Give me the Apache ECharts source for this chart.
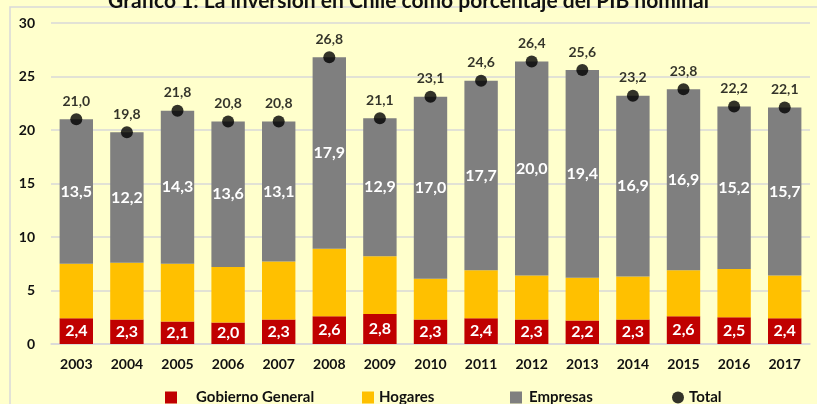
<!DOCTYPE html>
<html>
<head>
<meta charset="utf-8">
<script src="https://cdn.jsdelivr.net/npm/echarts@6/dist/echarts.min.js"></script>
<style>
  html, body { margin: 0; padding: 0; background: #FFFFCC; }
  #chart { width: 817px; height: 404px; }
</style>
</head>
<body>
<div id="chart"></div>
<script>
// datos (% del PIB)
var years = ['2003', '2004', '2005', '2006', '2007', '2008', '2009', '2010', '2011', '2012', '2013', '2014', '2015', '2016', '2017'];
var gobierno = [2.4, 2.3, 2.1, 2.0, 2.3, 2.6, 2.8, 2.3, 2.4, 2.3, 2.2, 2.3, 2.6, 2.5, 2.4];
var hogares = [5.1, 5.3, 5.4, 5.2, 5.4, 6.3, 5.4, 3.8, 4.5, 4.1, 4.0, 4.0, 4.3, 4.5, 4.0];
var empresas = [13.5, 12.2, 14.3, 13.6, 13.1, 17.9, 12.9, 17.0, 17.7, 20.0, 19.4, 16.9, 16.9, 15.2, 15.7];
var total = [21.0, 19.8, 21.8, 20.8, 20.8, 26.8, 21.1, 23.1, 24.6, 26.4, 25.6, 23.2, 23.8, 22.2, 22.1];
var yTicks = [0, 5, 10, 15, 20, 25, 30];

var font = 'Lato';

function fmt(p) {
  return p.value.toFixed(1).replace('.', ',');
}

function legendAt(name, left, icon, gap) {
  return {
    data: [{ name: name, icon: icon }],
    left: left,
    top: 385,
    itemWidth: 12,
    itemHeight: 12,
    selectedMode: false,
    textStyle: {
      fontFamily: font, fontWeight: 'bold', fontSize: 15, color: '#111',
      padding: [0, 0, 0, gap]
    }
  };
}

var chart = echarts.init(document.getElementById('chart'));

chart.setOption({
  backgroundColor: '#FFFFCC',
  animation: false,
  title: {
    text: 'Gráfico 1: La inversión en Chile como porcentaje del PIB nominal',
    left: 'center',
    top: -14,
    textStyle: { fontFamily: font, fontWeight: 'bold', fontSize: 21, color: '#111' }
  },
  graphic: [{
    type: 'rect',
    shape: { x: 10, y: 7, width: 820, height: 420 },
    style: { fill: 'none', stroke: '#D9D9D9', lineWidth: 1.5 },
    z: -1
  }],
  legend: [
    legendAt('Gobierno General', 160, 'rect', 14),
    legendAt('Hogares', 357, 'rect', 0),
    legendAt('Empresas', 505, 'rect', 2),
    legendAt('Total', 667, 'circle', 0)
  ],
  grid: { left: 51, right: 7, top: 23, bottom: 60 },
  xAxis: {
    type: 'category',
    data: years,
    axisTick: { show: false },
    axisLine: { lineStyle: { color: '#D9D9D9', width: 1.5 } },
    axisLabel: { fontFamily: font, fontWeight: 'bold', fontSize: 14, color: '#111', margin: 13 }
  },
  yAxis: {
    type: 'value',
    min: yTicks[0],
    max: yTicks[yTicks.length - 1],
    interval: 5,
    axisLine: { show: false },
    axisTick: { show: false },
    splitLine: { lineStyle: { color: '#D9D9D9', width: 1.5 } },
    axisLabel: { fontFamily: font, fontWeight: 'bold', fontSize: 14, color: '#111', margin: 16 }
  },
  series: [
    {
      name: 'Gobierno General',
      type: 'bar',
      stack: 'inv',
      barWidth: '66%',
      data: gobierno,
      itemStyle: { color: '#C00000' },
      label: {
        show: true, position: 'inside', formatter: fmt,
        fontFamily: font, fontWeight: 'bold', fontSize: 16, color: '#fff'
      }
    },
    {
      name: 'Hogares',
      type: 'bar',
      stack: 'inv',
      data: hogares,
      itemStyle: { color: '#FFC000' }
    },
    {
      name: 'Empresas',
      type: 'bar',
      stack: 'inv',
      data: empresas,
      itemStyle: { color: '#7F7F7F' },
      label: {
        show: true, position: 'inside', formatter: fmt,
        fontFamily: font, fontWeight: 'bold', fontSize: 16, color: '#fff'
      }
    },
    {
      name: 'Total',
      type: 'scatter',
      data: total,
      symbolSize: 12,
      itemStyle: { color: '#000' },
      z: 5,
      label: {
        show: true, position: 'top', distance: 5, formatter: fmt,
        fontFamily: font, fontWeight: 'bold', fontSize: 14, color: '#000'
      }
    }
  ]
});
</script>
</body>
</html>
